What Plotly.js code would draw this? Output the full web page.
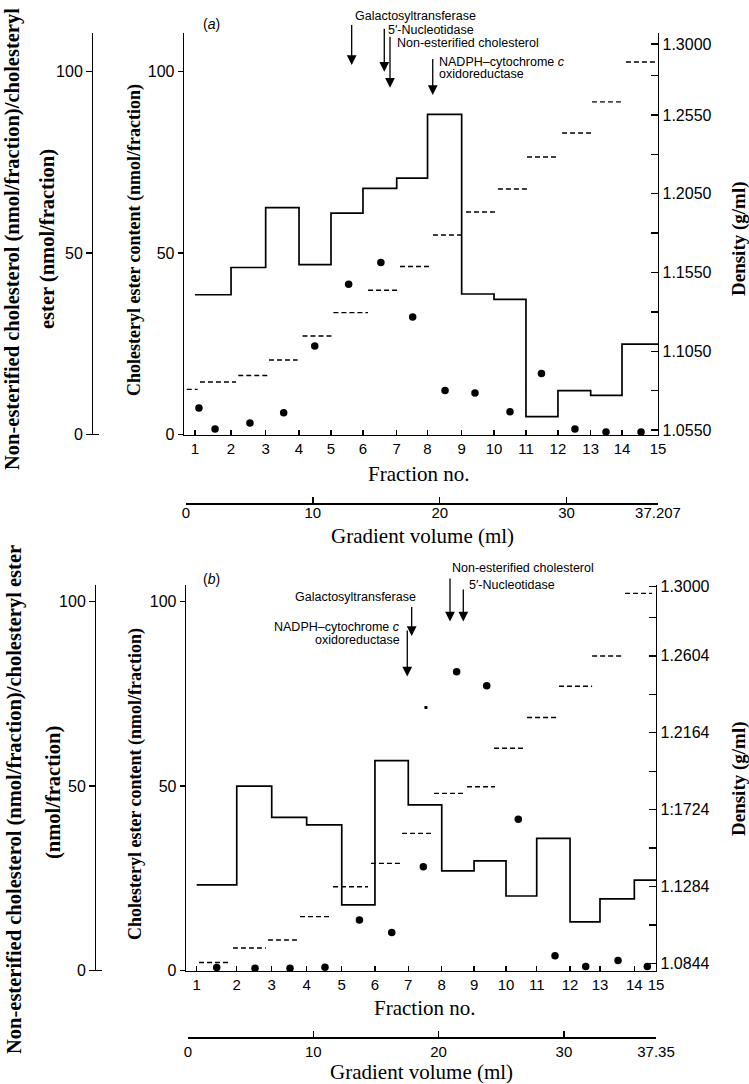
<!DOCTYPE html>
<html>
<head>
<meta charset="utf-8">
<script src="https://cdn.plot.ly/plotly-3.0.1.min.js"></script>
<style>html,body{margin:0;padding:0;background:#fff}#chart{width:749px;height:1084px}</style>
</head>
<body>
<div id="chart"></div>
<script>
// ---------------- DATA: panel (a) ----------------
const fracLabels = ['1','2','3','4','5','6','7','8','9','10','11','12','13','14','15'];
// gradient volume (ml) at which each fraction tick sits
const fracTickMlA = [0.71, 3.55, 6.28, 8.91, 11.43, 13.95, 16.61, 19.04, 21.73, 24.28, 26.80, 29.32, 31.90, 34.37, 37.207];
// cholesteryl ester content per fraction (nmol/fraction)
const esterA = [38.5, 46.0, 62.5, 46.8, 61.0, 67.8, 70.6, 88.2, 38.7, 37.2, 4.9, 12.1, 10.8, 24.9];
// non-esterified cholesterol / cholesteryl ester points
const ratioMlA = [1.02, 2.29, 5.04, 7.70, 10.15, 12.82, 15.36, 17.87, 20.42, 22.78, 25.54, 28.02, 30.66, 33.11, 35.87];
const ratioA = [7.3, 1.5, 3.2, 6.0, 24.4, 41.4, 47.4, 32.4, 12.1, 11.4, 6.3, 16.8, 1.5, 0.7, 0.7];
// density per fraction (g/ml), each spanning a volume interval
const densStartA = [0.06, 1.10, 4.12, 6.54, 9.18, 11.62, 14.35, 16.87, 19.47, 22.07, 24.59, 26.88, 29.64, 32.00, 34.68];
const densEndA = [0.92, 3.94, 6.49, 8.80, 11.59, 14.35, 16.79, 19.31, 21.84, 24.59, 26.96, 29.32, 32.00, 34.53, 37.20];
const densA = [1.0808, 1.0855, 1.0896, 1.0994, 1.1147, 1.1295, 1.1437, 1.1588, 1.1788, 1.1934, 1.2080, 1.2283, 1.2436, 1.2633, 1.2886];
const densTickA = [1.055, 1.105, 1.155, 1.205, 1.255, 1.3];
const densTickTextA = ['1.0550', '1.1050', '1.1550', '1.2050', '1.2550', '1.3000'];
const densMinorA = [1.08, 1.13, 1.18, 1.23, 1.28];
const gradTickA = [0, 10, 20, 30, 37.207];
const gradTickTextA = ['0', '10', '20', '30', '37.207'];
const markerNamesA = ['Galactosyltransferase', '5\u2032-Nucleotidase', 'Non-esterified cholesterol', 'NADPH\u2013cytochrome c oxidoreductase'];
const markerMlA = [13.06, 15.63, 16.08, 19.45];

// ---------------- DATA: panel (b) ----------------
const fracTickMlB = [0.69, 3.89, 6.68, 9.47, 12.27, 14.92, 17.58, 20.25, 22.83, 25.38, 27.83, 30.49, 32.88, 35.62, 37.35];
const esterB = [23.2, 50.0, 41.5, 39.5, 17.8, 56.9, 44.9, 27.0, 29.7, 20.2, 35.8, 13.2, 19.4, 24.5];
const ratioMlB = [2.29, 5.35, 8.14, 10.93, 13.68, 16.26, 18.78, 21.44, 23.84, 26.36, 29.29, 31.74, 34.32, 36.66];
const ratioB = [0.8, 0.6, 0.6, 0.9, 13.7, 10.3, 28.1, 81.0, 77.2, 41.0, 4.0, 1.1, 2.7, 1.1];
const speckMlB = [18.99];
const speckB = [71.3];
const densStartB = [0.88, 3.59, 6.38, 8.94, 11.57, 14.60, 17.08, 19.63, 22.27, 24.42, 27.06, 29.61, 32.25, 34.88];
const densEndB = [3.35, 6.22, 8.86, 11.49, 14.37, 17.00, 19.47, 22.19, 24.50, 26.98, 29.61, 32.25, 34.72, 37.04];
const densB = [1.0849, 1.0932, 1.0977, 1.1111, 1.1282, 1.1416, 1.1588, 1.1817, 1.1855, 1.2075, 1.2251, 1.2430, 1.2603, 1.2962];
const densTickB = [1.0844, 1.1284, 1.1724, 1.2164, 1.2604, 1.3];
const densTickTextB = ['1.0844', '1.1284', '1:1724', '1.2164', '1.2604', '1.3000'];
const densMinorB = [1.1064, 1.1504, 1.1944, 1.2384, 1.2824];
const gradTickB = [0, 10, 20, 30, 37.35];
const gradTickTextB = ['0', '10', '20', '30', '37.35'];
const markerNamesB = ['NADPH\u2013cytochrome c oxidoreductase', 'Galactosyltransferase', 'Non-esterified cholesterol', '5\u2032-Nucleotidase'];
const markerMlB = [17.50, 17.85, 20.91, 21.97];

// ---------------- helpers / styles ----------------
const W = 749, H = 1084;
const PX = x => x / W, PY = y => 1 - y / H;
const SANS = 'Liberation Sans, Arial, sans-serif';
const SERIF = 'Liberation Serif, Times New Roman, serif';
const BLK = '#000';

function stepY(v) { return v.concat([v[v.length - 1]]); }
function segX(s, e) { const o = []; s.forEach((v, i) => { o.push(v, e[i], null); }); return o; }
function segY(d) { const o = []; d.forEach(v => { o.push(v, v, null); }); return o; }

const traces = [];
function panel(xa, ya, ya2, ya3, fracMl, ester, rMl, r, ds, de, d) {
  traces.push({x: fracMl, y: stepY(ester), xaxis: xa, yaxis: ya, mode: 'lines',
    line: {shape: 'hv', color: BLK, width: 1.7}, hoverinfo: 'skip'});
  traces.push({x: rMl, y: r, xaxis: xa, yaxis: ya2, mode: 'markers', cliponaxis: false,
    marker: {color: BLK, size: 7.5}, hoverinfo: 'skip'});
  traces.push({x: segX(ds, de), y: segY(d), xaxis: xa, yaxis: ya3, mode: 'lines', connectgaps: false,
    line: {color: BLK, width: 1.4, dash: '5px,3px'}, hoverinfo: 'skip'});
}
panel('x', 'y', 'y2', 'y3', fracTickMlA, esterA, ratioMlA, ratioA, densStartA, densEndA, densA);
panel('x3', 'y5', 'y6', 'y7', fracTickMlB, esterB, ratioMlB, ratioB, densStartB, densEndB, densB);
traces.push({x: speckMlB, y: speckB, xaxis: 'x3', yaxis: 'y6', mode: 'markers',
  marker: {color: BLK, size: 3, symbol: 'square'}, hoverinfo: 'skip'});
// invisible anchors for the gradient-volume axes
traces.push({x: [gradTickA[0], gradTickA[4]], y: [0, 0], xaxis: 'x2', yaxis: 'y4', mode: 'markers',
  marker: {opacity: 0}, hoverinfo: 'skip'});
traces.push({x: [gradTickB[0], gradTickB[4]], y: [0, 0], xaxis: 'x4', yaxis: 'y8', mode: 'markers',
  marker: {opacity: 0}, hoverinfo: 'skip'});

const lineAx = {showline: true, linecolor: BLK, linewidth: 1.3, showgrid: false, zeroline: false,
  tickcolor: BLK, tickwidth: 1.3, fixedrange: true};
const tickFont = {family: SANS, size: 15, color: BLK};

function leftAxes(range, dom, outerPos, overlay, anchorX) {
  const inner = Object.assign({}, lineAx, {domain: dom, range: range, anchor: anchorX,
    tickmode: 'array', tickvals: [0, 50, 100], ticktext: ['0', '50', '100'],
    ticks: 'outside', ticklen: 5, tickfont: {family: SANS, size: 16, color: BLK}});
  const outer = Object.assign({}, lineAx, {overlaying: overlay, anchor: 'free', position: outerPos, side: 'left',
    range: range, tickmode: 'array', tickvals: [0, 50, 100], ticktext: ['0', '50', '100'],
    ticks: 'outside', ticklen: 6, tickfont: {family: SANS, size: 16, color: BLK},
    minor: {tickmode: 'array', tickvals: [0], ticks: 'inside', ticklen: 6, tickcolor: BLK, tickwidth: 1.3, showgrid: false}});
  return [inner, outer];
}
function densAxis(range, overlay, anchorX, tv, tt, minor) {
  return Object.assign({}, lineAx, {overlaying: overlay, anchor: anchorX, side: 'right', range: range,
    tickmode: 'array', tickvals: tv, ticktext: tt, ticks: 'inside', ticklen: 7,
    tickfont: {family: SANS, size: 16, color: BLK},
    minor: {tickmode: 'array', tickvals: minor, ticks: 'inside', ticklen: 7, tickcolor: BLK, tickwidth: 1.3, showgrid: false}});
}
function fracAxis(dom, range, anchorY, tv) {
  return Object.assign({}, lineAx, {domain: dom, range: range, anchor: anchorY,
    tickmode: 'array', tickvals: tv, ticktext: fracLabels, ticks: 'inside', ticklen: 5, tickfont: tickFont});
}
function gradAxis(dom, range, anchorY, tv, tt, standoff) {
  return Object.assign({}, lineAx, {domain: dom, range: range, anchor: anchorY,
    tickmode: 'array', tickvals: tv, ticktext: tt, ticks: 'inside', ticklen: 6, tickfont: tickFont,
    ticklabelstandoff: standoff});
}

const [yA, y2A] = leftAxes([0, 110.6], [PY(434.5), PY(33)], PX(92), 'y', 'x');
const [yB, y2B] = leftAxes([0, 104.5], [PY(970.5), PY(585)], PX(95), 'y5', 'x3');

const layout = {
  width: W, height: H, margin: {l: 0, r: 0, t: 0, b: 0}, showlegend: false,
  paper_bgcolor: '#fff', plot_bgcolor: 'rgba(0,0,0,0)', hovermode: false,
  xaxis: fracAxis([PX(184), PX(658)], [-0.158, 37.207], 'y', fracTickMlA),
  yaxis: yA, yaxis2: y2A,
  yaxis3: densAxis([1.05214, 1.30706], 'y', 'x', densTickA, densTickTextA, densMinorA),
  xaxis2: gradAxis([PX(186), PX(658)], [0, 37.207], 'y4', gradTickA, gradTickTextA, -5),
  yaxis4: {domain: [PY(503.3), PY(490)], visible: false, range: [0, 1], fixedrange: true},
  xaxis3: fracAxis([PX(186), PX(656)], [-0.16, 37.35], 'y5', fracTickMlB),
  yaxis5: yB, yaxis6: y2B,
  yaxis7: densAxis([1.08028, 1.30097], 'y5', 'x3', densTickB, densTickTextB, densMinorB),
  xaxis4: gradAxis([PX(188), PX(656)], [0, 37.35], 'y8', gradTickB, gradTickTextB, 0),
  yaxis8: {domain: [PY(1037.3), PY(1025)], visible: false, range: [0, 1], fixedrange: true},
  annotations: []
};

const ann = layout.annotations;
function txt(text, x, y, o) {
  ann.push(Object.assign({text: text, xref: 'paper', yref: 'paper', x: PX(x), y: PY(y),
    xanchor: 'center', yanchor: 'middle', showarrow: false,
    font: {family: SERIF, size: 18, color: BLK}}, o || {}));
}
const ytFont = s => ({family: SERIF, size: s, color: BLK, weight: 'bold'});
// panel (a) titles
txt('(<i>a</i>)', 211, 24, {font: {family: SANS, size: 14, color: BLK}});
txt('Non-esterified cholesterol (nmol/fraction)/cholesteryl', 13, 239, {textangle: -90, font: ytFont(20.5)});
txt('ester (nmol/fraction)', 48, 239, {textangle: -90, font: ytFont(20.5)});
txt('Cholesteryl ester content (nmol/fraction)', 134, 240, {textangle: -90, font: ytFont(18)});
txt('Density (g/ml)', 739, 239, {textangle: -90, font: ytFont(19)});
txt('Fraction no.', 418, 474, {font: {family: SERIF, size: 21, color: BLK}});
txt('Gradient volume (ml)', 422, 536, {font: {family: SERIF, size: 21, color: BLK}});
// panel (b) titles
txt('(<i>b</i>)', 211, 579, {font: {family: SANS, size: 14, color: BLK}});
txt('Non-esterified cholesterol (nmol/fraction)/cholesteryl ester', 14, 800, {textangle: -90, font: ytFont(20.5)});
txt('(nmol/fraction)', 53, 793, {textangle: -90, font: ytFont(20.5)});
txt('Cholesteryl ester content (nmol/fraction)', 135, 784, {textangle: -90, font: ytFont(18)});
txt('Density (g/ml)', 739, 779, {textangle: -90, font: ytFont(19)});
txt('Fraction no.', 424, 1008, {font: {family: SERIF, size: 21, color: BLK}});
txt('Gradient volume (ml)', 421, 1072, {font: {family: SERIF, size: 21, color: BLK}});

// enzyme / marker arrows
function arrow(xa, ya, xml, tipY, len) {
  ann.push({xref: xa, yref: ya, x: xml, y: tipY, ax: 0, ay: -len, text: ' ', font: {size: 1},
    showarrow: true, arrowhead: 2, arrowsize: 1.5, arrowwidth: 1.3, arrowcolor: BLK});
}
const lblFont = {family: SANS, size: 12.5, color: BLK};
// (a)
arrow('x', 'y', markerMlA[0], 101.8, 42);
arrow('x', 'y', markerMlA[1], 99.9, 45);
arrow('x', 'y', markerMlA[2], 95.5, 53);
arrow('x', 'y', markerMlA[3], 93.5, 38);
txt(markerNamesA[0], 353, 16, {xanchor: 'left', font: lblFont});
txt(markerNamesA[1], 386, 30, {xanchor: 'left', font: lblFont});
txt(markerNamesA[2], 395, 43, {xanchor: 'left', font: lblFont});
txt('NADPH\u2013cytochrome <i>c</i>', 437, 62, {xanchor: 'left', font: lblFont});
txt('oxidoreductase', 437, 74, {xanchor: 'left', font: lblFont});
// (b)
arrow('x3', 'y5', markerMlB[0], 79.7, 48);
arrow('x3', 'y5', markerMlB[1], 90.7, 31);
arrow('x3', 'y5', markerMlB[2], 94.6, 45);
arrow('x3', 'y5', markerMlB[3], 94.6, 34);
txt('NADPH\u2013cytochrome <i>c</i>', 402, 627, {xanchor: 'right', font: lblFont});
txt('oxidoreductase', 402, 640, {xanchor: 'right', font: lblFont});
txt(markerNamesB[1], 418, 597, {xanchor: 'right', font: lblFont});
txt(markerNamesB[2], 450, 568, {xanchor: 'left', font: lblFont});
txt(markerNamesB[3], 467, 585, {xanchor: 'left', font: lblFont});

Plotly.newPlot('chart', traces, layout, {staticPlot: true, displayModeBar: false});
</script>
</body>
</html>
